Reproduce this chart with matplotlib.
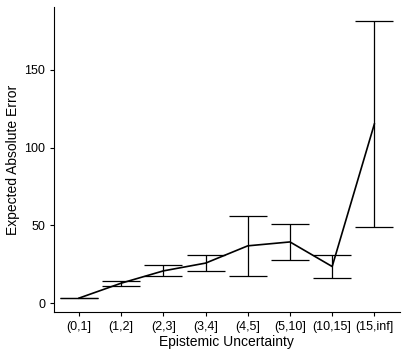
import numpy as np
import matplotlib
matplotlib.use('Agg')
import matplotlib.pyplot as plt

categories = ['(0,1]', '(1,2]', '(2,3]', '(3,4]', '(4,5]', '(5,10]', '(10,15]', '(15,inf]']
mean_err = [3.2, 12.8, 20.7, 25.7, 36.8, 39.3, 23.5, 115.1]
low_err = [3.0, 11.2, 17.1, 20.3, 17.1, 27.6, 15.8, 49.2]
high_err = [3.5, 13.9, 24.4, 31.0, 56.2, 51.1, 31.2, 181.4]
yticks = [0, 50, 100, 150]

plt.rcParams['font.family'] = ['Liberation Sans', 'DejaVu Sans']

fig = plt.figure(figsize=(4.07, 3.56), dpi=100)
ax = fig.add_axes([0.132, 0.1228, 0.850, 0.8575])

x = np.arange(1, len(categories) + 1)
half = 0.45
for xi, lo, hi in zip(x, low_err, high_err):
    ax.plot([xi, xi], [lo, hi], color='black', lw=0.9, solid_capstyle='butt')
    ax.plot([xi - half, xi + half], [lo, lo], color='black', lw=0.9, solid_capstyle='butt')
    ax.plot([xi - half, xi + half], [hi, hi], color='black', lw=0.9, solid_capstyle='butt')

ax.plot(x, mean_err, color='black', lw=1.2)

ax.set_xlim(0.4, len(categories) + 0.6)
lo_all, hi_all = min(low_err), max(high_err)
pad = (hi_all - lo_all) * 0.05
ax.set_ylim(lo_all - pad, hi_all + pad)

ax.set_xticks(x)
ax.set_xticklabels(categories)
ax.set_yticks(yticks)
ax.tick_params(axis='both', labelsize=9.0, colors='black', length=3, width=0.8, pad=3)

for s in ['top', 'right']:
    ax.spines[s].set_visible(False)
for s in ['left', 'bottom']:
    ax.spines[s].set_linewidth(0.8)

ax.set_xlabel('Epistemic Uncertainty', fontsize=10, labelpad=2)
ax.set_ylabel('Expected Absolute Error', fontsize=10, labelpad=3)

fig.savefig('out.png', dpi=100)
